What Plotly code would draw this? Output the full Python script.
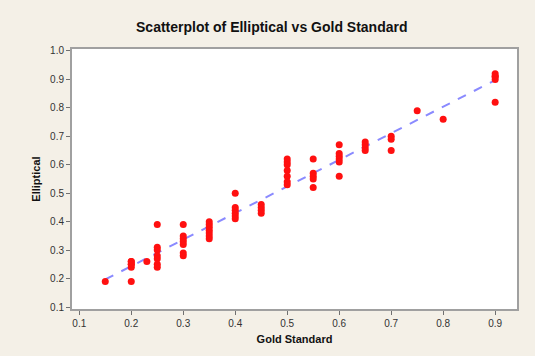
import numpy as np
import plotly.graph_objects as go

gold = [0.15,
        0.2, 0.2, 0.2, 0.2, 0.2, 0.2,
        0.23,
        0.25, 0.25, 0.25, 0.25, 0.25, 0.25, 0.25,
        0.3, 0.3, 0.3, 0.3, 0.3, 0.3, 0.3,
        0.35, 0.35, 0.35, 0.35, 0.35, 0.35, 0.35,
        0.4, 0.4, 0.4, 0.4, 0.4, 0.4,
        0.45, 0.45, 0.45, 0.45,
        0.5, 0.5, 0.5, 0.5, 0.5, 0.5, 0.5,
        0.55, 0.55, 0.55, 0.55, 0.55,
        0.6, 0.6, 0.6, 0.6, 0.6, 0.6,
        0.65, 0.65, 0.65, 0.65,
        0.7, 0.7, 0.7,
        0.75,
        0.8,
        0.9, 0.9, 0.9, 0.9, 0.9]
elliptical = [0.19,
              0.19, 0.24, 0.25, 0.26, 0.26, 0.25,
              0.26,
              0.39, 0.31, 0.30, 0.28, 0.27, 0.25, 0.24,
              0.39, 0.35, 0.34, 0.33, 0.32, 0.29, 0.28,
              0.40, 0.39, 0.38, 0.37, 0.36, 0.35, 0.34,
              0.50, 0.45, 0.44, 0.43, 0.42, 0.41,
              0.46, 0.45, 0.44, 0.43,
              0.62, 0.61, 0.60, 0.58, 0.56, 0.54, 0.53,
              0.62, 0.57, 0.56, 0.55, 0.52,
              0.67, 0.64, 0.63, 0.62, 0.61, 0.56,
              0.68, 0.67, 0.66, 0.65,
              0.70, 0.69, 0.65,
              0.79,
              0.76,
              0.92, 0.91, 0.91, 0.90, 0.82]

x_ticks = [0.1, 0.2, 0.3, 0.4, 0.5, 0.6, 0.7, 0.8, 0.9]
y_ticks = [0.1, 0.2, 0.3, 0.4, 0.5, 0.6, 0.7, 0.8, 0.9, 1.0]

slope, intercept = np.polyfit(gold, elliptical, 1)
line_x = [min(gold), max(gold)]
line_y = [slope * v + intercept for v in line_x]

fig = go.Figure()
fig.add_trace(go.Scatter(x=line_x, y=line_y, mode="lines",
                         line=dict(color="#8a8aff", width=2, dash="dash"),
                         showlegend=False, hoverinfo="skip"))
fig.add_trace(go.Scatter(x=gold, y=elliptical, mode="markers",
                         marker=dict(color="#ff1010", size=7, symbol="circle"),
                         showlegend=False))

axis_common = dict(showline=True, linecolor="#a0a0a0", linewidth=2, mirror=True,
                   showgrid=False, zeroline=False, ticks="outside", ticklen=4,
                   tickcolor="#707070", tickwidth=1,
                   tickfont=dict(family="Liberation Sans, Arial", size=10, color="#333333"))

fig.update_xaxes(range=[0.086, 0.942], tickvals=x_ticks,
                 ticktext=[f"{v:.1f}" for v in x_ticks],
                 title=dict(text="<b>Gold Standard</b>", standoff=7,
                            font=dict(family="Liberation Sans, Arial", size=11, color="#111111")),
                 **axis_common)
fig.update_yaxes(range=[0.093, 1.007], tickvals=y_ticks,
                 ticktext=[f"{v:.1f}" for v in y_ticks],
                 title=dict(text="<b>Elliptical</b>", standoff=7,
                            font=dict(family="Liberation Sans, Arial", size=11, color="#111111")),
                 **axis_common)

fig.update_layout(
    width=535, height=356,
    margin=dict(l=72, r=18, t=49, b=47),
    paper_bgcolor="#f4f0e7", plot_bgcolor="#ffffff",
    title=dict(text="<b>Scatterplot of Elliptical vs Gold Standard</b>",
               x=0.508, xanchor="center", y=0.925, yanchor="middle",
               font=dict(family="Liberation Sans, Arial", size=14, color="#111111")),
)

fig.write_html("out.html",
               config={"displayModeBar": False},
               post_script="document.body.style.margin='0px';"
                           "document.body.style.background='#f4f0e7';")
